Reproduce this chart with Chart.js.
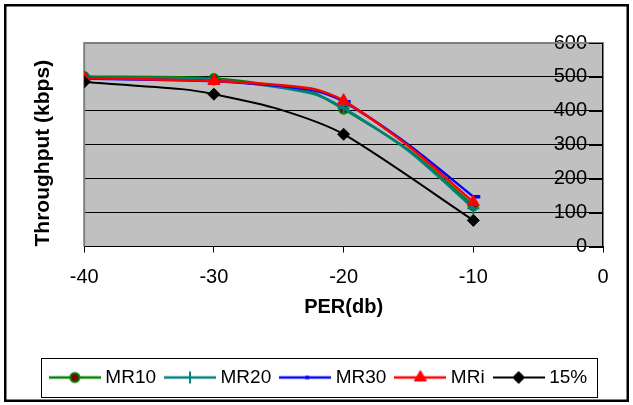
<!DOCTYPE html>
<html>
<head>
<meta charset="utf-8">
<title>Throughput vs PER</title>
<script src="https://cdn.jsdelivr.net/npm/chart.js@4.4.1/dist/chart.umd.min.js"></script>
<style>
  html, body { margin: 0; padding: 0; background: #fff; }
</style>
</head>
<body>
<canvas id="chart" width="633" height="405"></canvas>
<script>
// PER (db) sample points for the MR curves and for the 15% curve
const mrPer = [-40, -30, -22.5, -20, -15, -10];
const pctPer = [-40, -32.5, -30, -25, -20, -10];

// throughput (kbps)
const mr10 = [501, 495, 455, 405, 285, 120];
const mr20 = [498, 492, 452, 408, 282, 113];
const mr30 = [495, 487, 462, 427, 300, 147];
const mri = [497, 488, 466, 430, 296, 131];
const pct15 = [485, 464, 449, 405, 331, 77];

const seriesNames = ["MR10", "MR20", "MR30", "MRi", "15%"];
const xTicks = [-40, -30, -20, -10, 0];
const yTicks = [0, 100, 200, 300, 400, 500, 600];

const FONT = "'Liberation Sans', Arial, sans-serif";
Chart.defaults.font.family = FONT;
Chart.defaults.color = "#000";

const styles = [
  {line: "#008000", fill: "#800000", edge: "#008000", shape: "circle", r: 4.5, bw: 2, lw: 2.5},
  {line: "#008080", fill: "#008080", edge: "#008080", shape: "cross", r: 6, bw: 2, lw: 2.5},
  {line: "#0000ff", fill: "#0000ff", edge: "#0000ff", shape: "dash", r: 7, bw: 3.5, lw: 2.5},
  {line: "#ff0000", fill: "#ff0000", edge: "#ff0000", shape: "triangle", r: 7, bw: 1, lw: 2.5},
  {line: "#000000", fill: "#000000", edge: "#000000", shape: "rectRot", r: 6, bw: 1, lw: 2}
];

function points(xs, ys) {
  return xs.map((x, i) => ({x, y: ys[i]}));
}

// markers only on the whole-decade PER values
function markerRadius(xs, r) {
  return (ctx) => (xs[ctx.dataIndex] % 10 === 0 ? r : 0);
}

function makeDataset(label, xs, ys, st, order) {
  return {
    label,
    data: points(xs, ys),
    borderColor: st.line,
    borderWidth: st.lw,
    backgroundColor: st.fill,
    pointStyle: st.shape,
    pointRadius: markerRadius(xs, st.r),
    pointHoverRadius: markerRadius(xs, st.r),
    pointBackgroundColor: st.fill,
    pointBorderColor: st.edge,
    pointBorderWidth: st.bw,
    tension: 0.25,
    fill: false,
    order
  };
}

// legend swatch: short line with the series marker in the middle
function swatch(st) {
  const c = document.createElement("canvas");
  c.width = 52;
  c.height = 18;
  const g = c.getContext("2d");
  g.strokeStyle = st.line;
  g.lineWidth = st.lw;
  g.beginPath();
  g.moveTo(0, 9);
  g.lineTo(52, 9);
  g.stroke();
  g.fillStyle = st.fill;
  g.strokeStyle = st.edge;
  g.lineWidth = st.bw;
  const r = st.shape === "dash" ? 4 : st.r;
  Chart.helpers.drawPoint(g, {pointStyle: st.shape, radius: r, rotation: 0, borderWidth: st.bw}, 26, 9);
  return c;
}

const plotDecor = {
  id: "plotDecor",
  beforeDraw(chart) {
    const {ctx, chartArea: a} = chart;
    ctx.save();
    ctx.fillStyle = "#c0c0c0";
    ctx.fillRect(a.left, a.top, a.right - a.left, a.bottom - a.top);
    ctx.restore();
  },
  beforeDatasetsDraw(chart) {
    const {ctx, chartArea: a} = chart;
    const ys = chart.scales.y;
    ctx.save();
    ctx.strokeStyle = "#808080";
    ctx.lineWidth = 2;
    ctx.beginPath();
    ctx.moveTo(a.left, a.bottom);
    ctx.lineTo(a.left, a.top);
    ctx.lineTo(a.right, a.top);
    ctx.stroke();
    // value axis tick marks point into the plot
    ctx.strokeStyle = "#000";
    ctx.lineWidth = 1;
    ctx.beginPath();
    ys.ticks.forEach((t) => {
      const py = Math.round(ys.getPixelForValue(t.value)) + 0.5;
      ctx.moveTo(a.right - 14, py);
      ctx.lineTo(a.right, py);
    });
    ctx.stroke();
    ctx.restore();
  },
  afterDraw(chart) {
    const {ctx} = chart;
    const boxes = chart.legend.legendHitBoxes;
    ctx.save();
    if (boxes && boxes.length) {
      const first = boxes[0];
      const last = boxes[boxes.length - 1];
      const cy = first.top + first.height / 2;
      const left = Math.round(first.left - 12.5) + 0.5;
      const right = Math.round(last.left + last.width + 10) + 0.5;
      ctx.strokeStyle = "#000";
      ctx.lineWidth = 1;
      ctx.strokeRect(left, Math.round(cy - 19.5) + 0.5, right - left, 39);
    }
    ctx.lineWidth = 2.5;
    ctx.strokeStyle = "#000";
    ctx.strokeRect(5.25, 5.25, 622.5, 395.5);
    ctx.restore();
  }
};

const allStyles = styles;
const datasets = [
  makeDataset(seriesNames[0], mrPer, mr10, allStyles[0], 5),
  makeDataset(seriesNames[1], mrPer, mr20, allStyles[1], 4),
  makeDataset(seriesNames[2], mrPer, mr30, allStyles[2], 3),
  makeDataset(seriesNames[3], mrPer, mri, allStyles[3], 2),
  makeDataset(seriesNames[4], pctPer, pct15, allStyles[4], 1)
];

new Chart(document.getElementById("chart"), {
  type: "line",
  data: {datasets},
  plugins: [plotDecor],
  options: {
    responsive: false,
    animation: false,
    events: [],
    layout: {padding: {left: 8, right: 0, top: 43, bottom: 8}},
    scales: {
      x: {
        type: "linear",
        position: "bottom",
        min: xTicks[0],
        max: xTicks[xTicks.length - 1],
        afterBuildTicks: (s) => { s.ticks = xTicks.map((v) => ({value: v})); },
        afterFit: (s) => { s.height = 108.5; },
        grid: {drawOnChartArea: false, drawTicks: true, tickLength: 6, color: "#000"},
        border: {color: "#000", width: 1},
        ticks: {font: {size: 20}, padding: 13, maxRotation: 0, color: "#000"},
        title: {
          display: true,
          text: "PER(db)",
          font: {size: 20, weight: "bold"},
          padding: {top: 0, bottom: 36},
          color: "#000"
        }
      },
      y: {
        position: "right",
        min: yTicks[0],
        max: yTicks[yTicks.length - 1],
        afterBuildTicks: (s) => { s.ticks = yTicks.map((v) => ({value: v})); },
        afterFit: (s) => { s.width = 30; },
        grid: {
          drawTicks: false,
          color: (c) => (c.tick && c.tick.value === 600 ? "rgba(0,0,0,0)" : "#000"),
          lineWidth: 1
        },
        border: {color: "#000", width: 1.5},
        ticks: {mirror: true, padding: -16, font: {size: 20}, color: "#000"}
      }
    },
    plugins: {
      title: {
        display: true,
        position: "left",
        align: "start",
        fullSize: false,
        text: "Throughput (kbps)",
        font: {size: 21, weight: "bold"},
        padding: {top: 23, bottom: 28},
        color: "#000"
      },
      legend: {
        position: "bottom",
        labels: {
          usePointStyle: true,
          pointStyleWidth: 42,
          padding: 13,
          font: {size: 19},
          color: "#000",
          generateLabels: (chart) => chart.data.datasets.map((ds, i) => ({
            text: ds.label,
            pointStyle: swatch(allStyles[i]),
            fillStyle: allStyles[i].fill,
            strokeStyle: allStyles[i].line,
            lineWidth: 0,
            hidden: false,
            datasetIndex: i
          }))
        }
      },
      tooltip: {enabled: false}
    }
  }
});
</script>
</body>
</html>
